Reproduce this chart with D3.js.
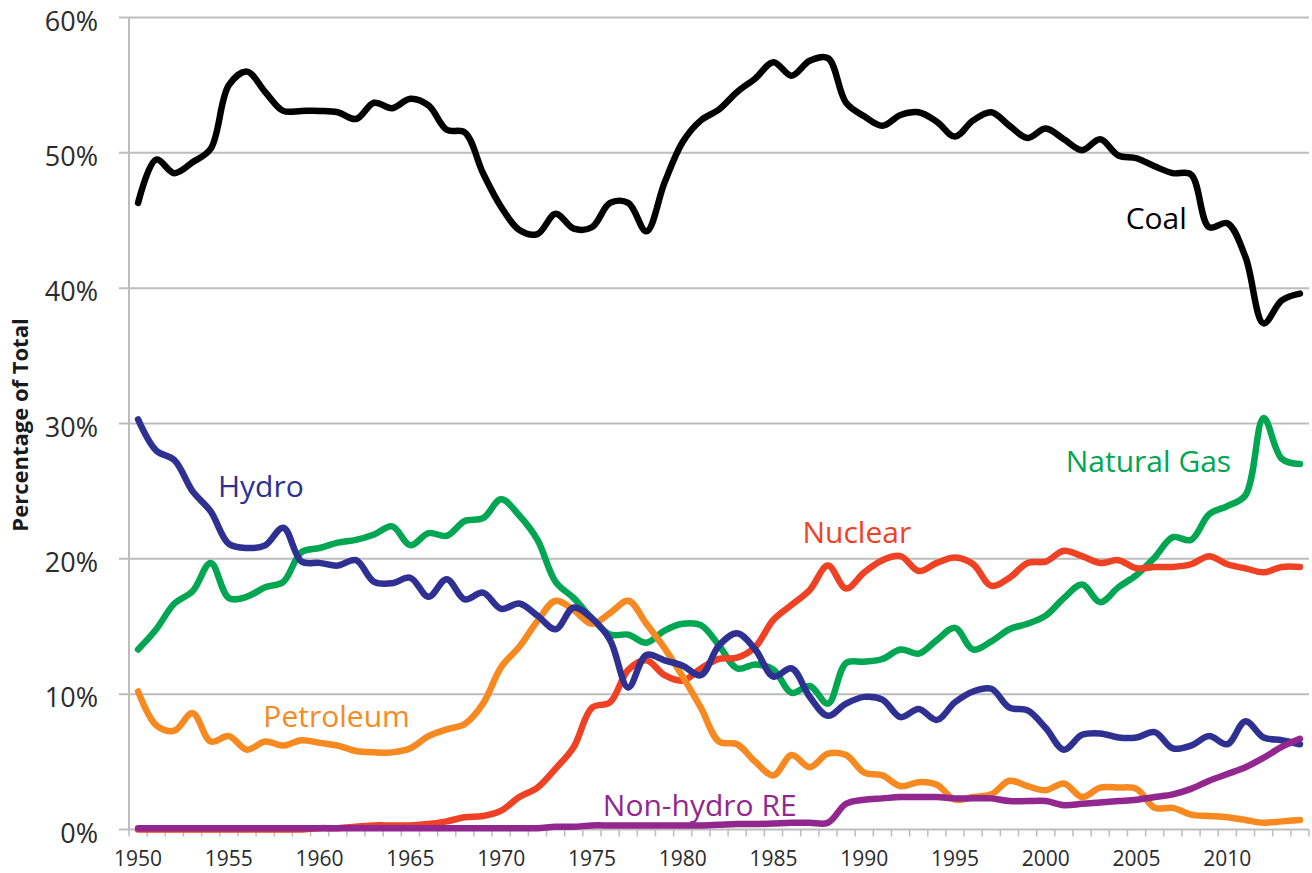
<!DOCTYPE html>
<html>
<head>
<meta charset="utf-8">
<script src="https://cdn.jsdelivr.net/npm/d3@7"></script>
<style>
  body { margin: 0; background: #fff; }
  svg { display: block; font-family: "Open Sans", "Noto Sans", sans-serif; }
</style>
</head>
<body>
<svg id="chart" width="1312" height="873"></svg>
<script>
// share of US electricity generation, % of total, 1950-2014
var years = [1950,1951,1952,1953,1954,1955,1956,1957,1958,1959,
  1960,1961,1962,1963,1964,1965,1966,1967,1968,1969,
  1970,1971,1972,1973,1974,1975,1976,1977,1978,1979,
  1980,1981,1982,1983,1984,1985,1986,1987,1988,1989,
  1990,1991,1992,1993,1994,1995,1996,1997,1998,1999,
  2000,2001,2002,2003,2004,2005,2006,2007,2008,2009,
  2010,2011,2012,2013,2014];

var coal = [46.3,49.5,48.5,49.3,50.3,55.0,56.0,54.5,53.1,53.1,
  53.1,53.0,52.5,53.7,53.3,54.0,53.5,51.7,51.5,48.5,
  46.0,44.3,44.0,45.5,44.4,44.5,46.3,46.3,44.2,47.8,
  50.8,52.4,53.2,54.5,55.5,56.7,55.7,56.8,57.0,53.7,
  52.7,52.0,52.8,53.0,52.3,51.2,52.4,53.0,52.0,51.1,
  51.8,51.0,50.2,51.0,49.8,49.6,49.0,48.5,48.4,44.5,
  44.8,42.3,37.4,39.1,39.6];

var naturalGas = [13.3,14.8,16.7,17.6,19.7,17.1,17.2,17.9,18.3,20.5,
  20.8,21.2,21.4,21.8,22.4,21.0,21.9,21.7,22.8,23.0,
  24.4,23.2,21.4,18.3,17.1,15.6,14.4,14.4,13.8,14.7,
  15.2,15.1,13.6,11.9,12.2,11.8,10.1,10.6,9.3,12.3,
  12.4,12.6,13.3,13.0,14.0,14.9,13.3,13.9,14.8,15.2,
  15.8,17.1,18.1,16.8,17.9,18.8,20.1,21.6,21.4,23.3,
  23.9,24.7,30.4,27.4,27.0];

var nuclear = [0,0,0,0,0,0,0,0,0,0,
  0.1,0.1,0.2,0.3,0.3,0.3,0.4,0.6,0.9,1.0,
  1.4,2.4,3.1,4.5,6.1,9.0,9.4,11.8,12.5,11.4,
  11.0,11.9,12.6,12.7,13.5,15.5,16.6,17.7,19.5,17.8,
  19.0,19.9,20.2,19.1,19.7,20.1,19.6,18.0,18.6,19.7,
  19.8,20.6,20.2,19.7,19.9,19.3,19.4,19.4,19.6,20.2,
  19.6,19.3,19.0,19.4,19.4];

var petroleum = [10.2,7.7,7.3,8.6,6.5,6.9,5.9,6.5,6.2,6.6,
  6.4,6.2,5.8,5.7,5.7,6.0,6.9,7.4,7.8,9.3,
  12.0,13.5,15.4,16.9,16.2,15.2,16.0,16.9,15.2,13.4,
  11.3,9.0,6.5,6.3,5.0,4.0,5.5,4.6,5.6,5.5,
  4.2,4.0,3.2,3.5,3.3,2.2,2.4,2.6,3.6,3.2,
  2.9,3.4,2.4,3.1,3.1,3.0,1.6,1.6,1.1,1.0,
  0.9,0.7,0.5,0.6,0.7];

var hydro = [30.3,28.0,27.3,25.0,23.5,21.1,20.8,21.0,22.3,19.8,
  19.7,19.5,19.9,18.3,18.2,18.6,17.2,18.5,17.0,17.5,
  16.3,16.7,15.8,14.8,16.4,15.6,14.0,10.5,12.9,12.5,
  12.1,11.4,13.6,14.5,13.3,11.3,11.9,9.8,8.4,9.3,
  9.8,9.6,8.3,8.9,8.1,9.4,10.2,10.4,9.0,8.8,
  7.5,5.9,7.0,7.1,6.8,6.8,7.2,6.0,6.2,6.9,
  6.3,8.0,6.8,6.6,6.3];

var nonHydroRE = [0.1,0.1,0.1,0.1,0.1,0.1,0.1,0.1,0.1,0.1,
  0.1,0.1,0.1,0.1,0.1,0.1,0.1,0.1,0.1,0.1,
  0.1,0.1,0.1,0.2,0.2,0.3,0.3,0.3,0.3,0.3,
  0.3,0.3,0.35,0.4,0.4,0.45,0.5,0.5,0.5,1.9,
  2.2,2.3,2.4,2.4,2.4,2.3,2.3,2.3,2.1,2.1,
  2.1,1.8,1.9,2.0,2.1,2.2,2.4,2.6,3.0,3.6,
  4.1,4.6,5.3,6.1,6.7];

var seriesNames = ["Coal", "Natural Gas", "Nuclear", "Petroleum", "Hydro", "Non-hydro RE"];
var seriesValues = [coal, naturalGas, nuclear, petroleum, hydro, nonHydroRE];
var seriesColors = ["#000000", "#00a651", "#ef4123", "#f6891f", "#2e3192", "#92278f"];

var yTicks = [0, 10, 20, 30, 40, 50, 60];
var xLabelYears = [1950, 1955, 1960, 1965, 1970, 1975, 1980, 1985, 1990, 1995, 2000, 2005, 2010];

var axisTitle = "Percentage of Total";

var svg = d3.select("#chart");
var gridColor = "#bdbdbd";

var plotL = 129, plotR = 1309, plotT = 17.5, plotB = 829.5;

var x = d3.scaleBand().domain(years).range([plotL, plotR]).padding(0);
var bw = x.bandwidth();
var xMid = function(yr) { return x(yr) + bw / 2; };
// for placing the series names between categories
var xPos = d3.scaleLinear().domain([years[0], years[years.length - 1]])
  .range([xMid(years[0]), xMid(years[years.length - 1])]);
var y = d3.scaleLinear().domain([0, 60]).range([plotB, plotT]);

// gridlines
svg.append("g").selectAll("line")
  .data(yTicks)
  .enter().append("line")
  .attr("x1", plotL - 10).attr("x2", plotR)
  .attr("y1", function(d) { return y(d); })
  .attr("y2", function(d) { return y(d); })
  .attr("stroke", gridColor)
  .attr("stroke-width", 2);

// y axis line
svg.append("line")
  .attr("x1", plotL).attr("x2", plotL)
  .attr("y1", y(60)).attr("y2", y(0))
  .attr("stroke", gridColor).attr("stroke-width", 2);

// y tick labels
svg.append("g").selectAll("text")
  .data(yTicks)
  .enter().append("text")
  .attr("x", 98)
  .attr("y", function(d) { return y(d) + 6; })
  .attr("text-anchor", "end")
  .attr("dominant-baseline", "middle")
  .attr("font-size", 27)
  .attr("fill", "#2b2b2b")
  .text(function(d) { return d + "%"; });

// x ticks between categories
var tickEdges = years.map(function(d) { return x(d); }).concat([plotR]);
svg.append("g").selectAll("line")
  .data(tickEdges)
  .enter().append("line")
  .attr("x1", function(d) { return d; })
  .attr("x2", function(d) { return d; })
  .attr("y1", plotB).attr("y2", plotB + 7)
  .attr("stroke", gridColor).attr("stroke-width", 1.5);

// x labels
svg.append("g").selectAll("text")
  .data(xLabelYears)
  .enter().append("text")
  .attr("x", function(d) { return xMid(d); })
  .attr("y", 866)
  .attr("text-anchor", "middle")
  .attr("font-size", 21)
  .attr("fill", "#2b2b2b")
  .text(function(d) { return d; });

// y axis title
svg.append("text")
  .attr("transform", "translate(22,425) rotate(-90)")
  .attr("text-anchor", "middle")
  .attr("dominant-baseline", "middle")
  .attr("font-size", 22)
  .attr("font-weight", "bold")
  .attr("fill", "#1a1a1a")
  .text(axisTitle);

// lines
var line = d3.line()
  .x(function(d, i) { return xMid(years[i]); })
  .y(function(d) { return y(d); })
  .curve(d3.curveCatmullRom.alpha(0.5));

svg.append("g").selectAll("path")
  .data(seriesValues)
  .enter().append("path")
  .attr("d", function(d) { return line(d); })
  .attr("fill", "none")
  .attr("stroke", function(d, i) { return seriesColors[i]; })
  .attr("stroke-width", 6.5)
  .attr("stroke-linecap", "round")
  .attr("stroke-linejoin", "round");

// series names, anchored at (year, percent)
var labelAt = [[2004.4, 44.4], [2001.1, 26.4], [1986.6, 21.2], [1956.9, 7.6], [1954.4, 24.6], [1975.6, 1.0]];
svg.append("g").selectAll("text")
  .data(seriesNames)
  .enter().append("text")
  .attr("x", function(d, i) { return xPos(labelAt[i][0]); })
  .attr("y", function(d, i) { return y(labelAt[i][1]); })
  .attr("font-size", 30)
  .attr("fill", function(d, i) { return seriesColors[i]; })
  .text(function(d) { return d; });
</script>
</body>
</html>
